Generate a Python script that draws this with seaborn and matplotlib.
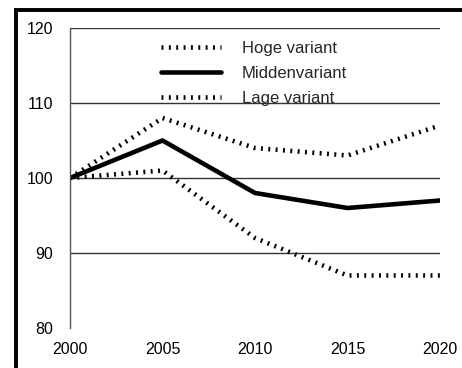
import pandas as pd
import seaborn as sns
import matplotlib.pyplot as plt
from matplotlib.patches import Rectangle

# data
jaren = [2000, 2005, 2010, 2015, 2020]
hoog = [100, 108, 104, 103, 107]
midden = [100, 105, 98, 96, 97]
laag = [100, 101, 92, 87, 87]
namen = ["Hoge variant", "Middenvariant", "Lage variant"]

df = pd.DataFrame({"jaar": jaren * 3,
                   "index": hoog + midden + laag,
                   "variant": [n for n in namen for _ in jaren]})

sns.set_style("white")
plt.rcParams["font.family"] = ["Liberation Sans", "DejaVu Sans"]
plt.rcParams["lines.scale_dashes"] = False

fig = plt.figure(figsize=(4.62, 3.68), dpi=100)
ax = fig.add_axes([70 / 462, 40 / 368, 370 / 462, 300 / 368])

stijlen = {"Hoge variant": (0, (1.4, 3.9)),
           "Middenvariant": "-",
           "Lage variant": (0, (1.4, 3.9))}
for naam in namen:
    sub = df[df["variant"] == naam]
    sns.lineplot(data=sub, x="jaar", y="index", ax=ax, color="black",
                 linewidth=3.3, linestyle=stijlen[naam], label=naam)

ax.set_xlim(2000, 2020)
ax.set_ylim(80, 120)
ax.set_xticks(jaren)
ax.set_yticks([80, 90, 100, 110, 120])
ax.set_xlabel("")
ax.set_ylabel("")
for y in [90, 100, 110, 120]:
    ax.axhline(y, color="#333333", linewidth=1, zorder=0)

for s in ["top", "right", "bottom"]:
    ax.spines[s].set_visible(False)
ax.spines["left"].set_color("#555555")
ax.spines["left"].set_linewidth(1)
ax.tick_params(axis="both", direction="out", length=7, width=1,
               color="#333333", labelsize=11.5, labelcolor="black")
ax.tick_params(axis="y", pad=5)
ax.tick_params(axis="x", pad=3)

leg = ax.legend(loc="upper left", bbox_to_anchor=(0.246, 0.958), frameon=False,
                fontsize=12, handlelength=3.6, handletextpad=1.26,
                labelspacing=0.62, borderaxespad=0, borderpad=0)

# thick frame around the figure (cut off at right and bottom)
fig.patches.append(Rectangle((16 / 462, -0.2), 1.2, 1.2 - 9.5 / 368,
                             transform=fig.transFigure, fill=False,
                             edgecolor="black", linewidth=2.8))

fig.savefig("out.png", dpi=100)
